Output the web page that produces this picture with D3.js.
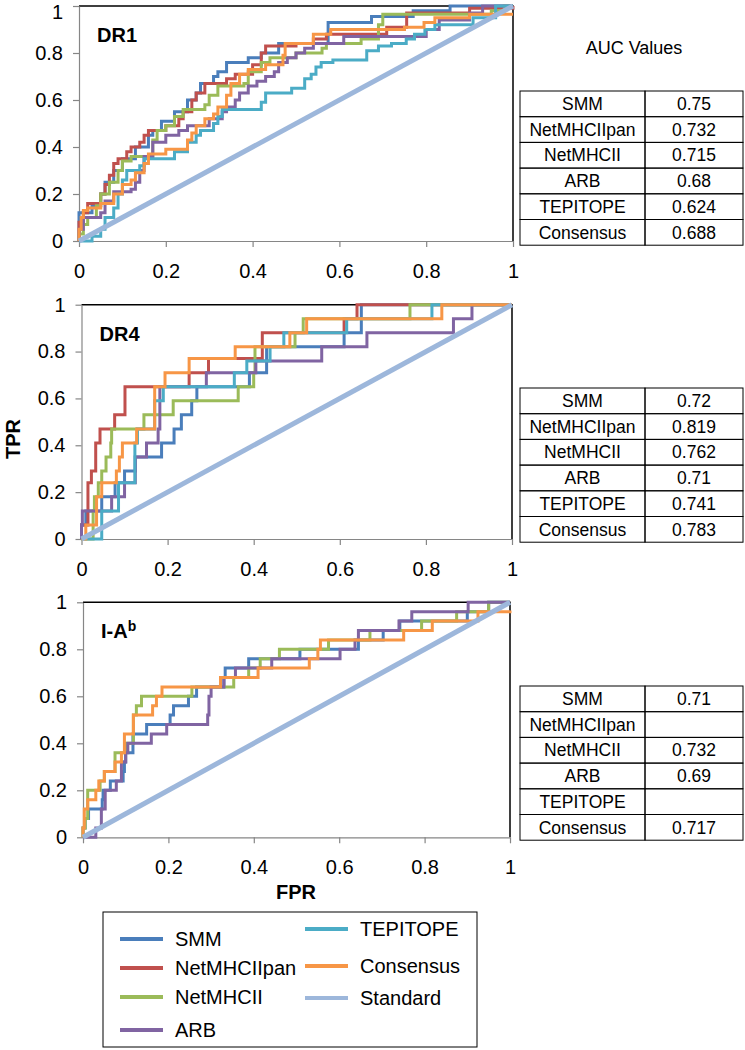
<!DOCTYPE html>
<html><head><meta charset="utf-8">
<script src="https://cdn.jsdelivr.net/npm/d3@7"></script>
<style>body{margin:0;background:#fff} text{font-family:"Liberation Sans",Arial,sans-serif}</style>
</head><body><svg id="c" width="745" height="1050"></svg>
<script>
// ---------- data ----------
const methods = ["SMM","NetMHCIIpan","NetMHCII","ARB","TEPITOPE","Consensus"];
const legendNames = ["SMM","NetMHCIIpan","NetMHCII","ARB","TEPITOPE","Consensus","Standard"];
const panelNames = ["DR1","DR4","I-A"];
const tickValues = [0,0.2,0.4,0.6,0.8,1];
const tickLabels = ["0","0.2","0.4","0.6","0.8","1"];
const auc_DR1 = ["0.75","0.732","0.715","0.68","0.624","0.688"];
const auc_DR4 = ["0.72","0.819","0.762","0.71","0.741","0.783"];
const auc_IAb = ["0.71","","0.732","0.69","","0.717"];
const standardLine = [[0,0],[1,1]];

// DR1 ROC curves [FPR, TPR]
const dr1_SMM = [[0,0],[0,0.12],[0.03,0.15],[0.05,0.2],[0.06,0.25],[0.08,0.3],[0.1,0.35],[0.13,0.4],[0.16,0.45],[0.17,0.47],[0.19,0.51],[0.22,0.55],[0.25,0.6],[0.27,0.63],[0.28,0.67],[0.31,0.7],[0.32,0.72],[0.34,0.76],[0.39,0.78],[0.42,0.8],[0.46,0.84],[0.574,0.93],[0.674,0.955],[0.77,0.98],[0.855,1],[1,1]];
const dr1_NetMHCIIpan = [[0,0],[0,0.08],[0.01,0.12],[0.02,0.16],[0.05,0.2],[0.06,0.24],[0.07,0.28],[0.08,0.33],[0.09,0.35],[0.11,0.38],[0.12,0.4],[0.14,0.42],[0.15,0.45],[0.16,0.47],[0.2,0.49],[0.23,0.52],[0.24,0.55],[0.26,0.6],[0.27,0.63],[0.29,0.67],[0.34,0.69],[0.36,0.71],[0.4,0.75],[0.42,0.8],[0.43,0.83],[0.5,0.84],[0.54,0.86],[0.57,0.88],[0.709,0.91],[0.755,0.97],[0.9,0.99],[1,1]];
const dr1_NetMHCII = [[0,0],[0,0.03],[0.01,0.07],[0.02,0.1],[0.04,0.15],[0.05,0.2],[0.07,0.25],[0.09,0.3],[0.1,0.34],[0.12,0.36],[0.17,0.43],[0.18,0.47],[0.2,0.49],[0.22,0.53],[0.24,0.56],[0.29,0.58],[0.3,0.62],[0.32,0.66],[0.38,0.67],[0.39,0.72],[0.42,0.76],[0.44,0.78],[0.5,0.8],[0.56,0.82],[0.57,0.84],[0.65,0.86],[0.69,0.92],[0.7,0.965],[0.95,0.98],[0.98,1],[1,1]];
const dr1_ARB = [[0,0],[0,0.05],[0.01,0.1],[0.05,0.12],[0.06,0.17],[0.08,0.21],[0.12,0.22],[0.13,0.25],[0.14,0.3],[0.15,0.36],[0.17,0.42],[0.2,0.45],[0.23,0.47],[0.25,0.49],[0.3,0.52],[0.33,0.55],[0.34,0.57],[0.36,0.6],[0.37,0.63],[0.39,0.66],[0.41,0.68],[0.43,0.7],[0.45,0.72],[0.46,0.76],[0.48,0.78],[0.5,0.8],[0.52,0.82],[0.54,0.84],[0.61,0.87],[0.8,0.9],[0.83,0.94],[0.9,0.97],[0.93,1],[1,1]];
const dr1_TEPITOPE = [[0,0],[0.03,0.02],[0.05,0.05],[0.06,0.1],[0.08,0.14],[0.09,0.2],[0.1,0.26],[0.11,0.3],[0.14,0.32],[0.15,0.35],[0.22,0.38],[0.25,0.42],[0.27,0.45],[0.28,0.47],[0.31,0.5],[0.32,0.53],[0.33,0.56],[0.42,0.59],[0.43,0.63],[0.49,0.65],[0.52,0.69],[0.535,0.71],[0.546,0.74],[0.558,0.76],[0.585,0.77],[0.663,0.81],[0.69,0.83],[0.72,0.84],[0.754,0.86],[0.773,0.88],[0.797,0.9],[0.82,0.92],[0.908,0.95],[0.96,1],[1,1]];
const dr1_Consensus = [[0,0],[0,0.05],[0.005,0.1],[0.01,0.13],[0.02,0.14],[0.05,0.16],[0.08,0.2],[0.1,0.24],[0.12,0.26],[0.13,0.29],[0.15,0.33],[0.16,0.37],[0.2,0.39],[0.25,0.43],[0.26,0.46],[0.27,0.49],[0.29,0.52],[0.31,0.54],[0.32,0.57],[0.34,0.62],[0.35,0.67],[0.37,0.71],[0.39,0.73],[0.43,0.75],[0.47,0.79],[0.475,0.84],[0.54,0.88],[0.58,0.9],[0.75,0.91],[0.795,0.93],[0.82,0.95],[0.9,0.965],[1,0.965]];

// DR4 ROC curves
const dr4_SMM = [[0,0],[0,0.06],[0.01,0.12],[0.047,0.18],[0.078,0.24],[0.1,0.29],[0.125,0.35],[0.186,0.41],[0.215,0.47],[0.232,0.53],[0.256,0.59],[0.268,0.65],[0.39,0.71],[0.43,0.82],[0.61,0.88],[0.65,1],[1,1]];
const dr4_NetMHCIIpan = [[0,0],[0,0.06],[0.015,0.24],[0.023,0.29],[0.033,0.41],[0.043,0.47],[0.077,0.53],[0.101,0.65],[0.25,0.71],[0.295,0.77],[0.42,0.88],[0.61,0.94],[0.64,1],[1,1]];
const dr4_NetMHCII = [[0,0],[0.027,0.12],[0.03,0.18],[0.039,0.24],[0.047,0.29],[0.057,0.35],[0.068,0.41],[0.07,0.47],[0.145,0.53],[0.213,0.59],[0.364,0.65],[0.4,0.71],[0.403,0.82],[0.496,0.88],[0.515,0.94],[0.763,1],[1,1]];
const dr4_ARB = [[0,0],[0,0.06],[0.002,0.12],[0.07,0.18],[0.1,0.24],[0.125,0.35],[0.151,0.41],[0.178,0.47],[0.182,0.65],[0.29,0.71],[0.405,0.76],[0.558,0.82],[0.663,0.88],[0.864,0.94],[0.907,1],[1,1]];
const dr4_TEPITOPE = [[0,0],[0.047,0.12],[0.086,0.24],[0.124,0.41],[0.13,0.47],[0.17,0.59],[0.19,0.65],[0.355,0.71],[0.384,0.76],[0.438,0.82],[0.47,0.88],[0.616,0.94],[0.814,1],[1,1]];
const dr4_Consensus = [[0,0],[0.01,0.06],[0.035,0.18],[0.047,0.24],[0.081,0.29],[0.088,0.35],[0.095,0.41],[0.128,0.47],[0.17,0.65],[0.194,0.71],[0.25,0.77],[0.357,0.82],[0.484,0.88],[0.523,0.94],[0.837,1],[1,1]];

// I-Ab ROC curves (no NetMHCIIpan / TEPITOPE)
const iab_SMM = [[0,0],[0,0.04],[0.005,0.08],[0.013,0.12],[0.045,0.16],[0.047,0.2],[0.064,0.24],[0.094,0.28],[0.097,0.32],[0.1,0.36],[0.117,0.44],[0.149,0.48],[0.204,0.52],[0.212,0.56],[0.247,0.6],[0.266,0.64],[0.33,0.68],[0.333,0.72],[0.388,0.76],[0.508,0.8],[0.645,0.84],[0.703,0.88],[0.742,0.92],[0.9,0.96],[0.95,1],[1,1]];
const iab_NetMHCII = [[0,0],[0,0.04],[0.005,0.08],[0.011,0.2],[0.04,0.24],[0.05,0.28],[0.075,0.36],[0.1,0.4],[0.118,0.52],[0.125,0.56],[0.137,0.6],[0.255,0.64],[0.353,0.68],[0.388,0.72],[0.415,0.76],[0.46,0.8],[0.575,0.84],[0.672,0.88],[0.793,0.92],[0.875,0.96],[0.95,1],[1,1]];
const iab_ARB = [[0,0],[0.03,0.04],[0.043,0.12],[0.052,0.2],[0.078,0.24],[0.09,0.32],[0.1,0.36],[0.105,0.4],[0.16,0.44],[0.196,0.48],[0.292,0.52],[0.295,0.6],[0.3,0.64],[0.33,0.68],[0.357,0.72],[0.442,0.76],[0.602,0.8],[0.637,0.84],[0.645,0.88],[0.74,0.92],[0.77,0.96],[0.902,1],[1,1]];
const iab_Consensus = [[0,0],[0,0.04],[0.003,0.12],[0.011,0.16],[0.03,0.2],[0.037,0.24],[0.05,0.28],[0.075,0.32],[0.09,0.36],[0.097,0.44],[0.118,0.52],[0.163,0.56],[0.172,0.6],[0.185,0.64],[0.322,0.68],[0.41,0.72],[0.53,0.76],[0.55,0.8],[0.556,0.84],[0.751,0.88],[0.818,0.92],[0.925,0.96],[1,0.965]];

const curvesByPanel = [
  [dr1_SMM, dr1_NetMHCIIpan, dr1_NetMHCII, dr1_ARB, dr1_TEPITOPE, dr1_Consensus],
  [dr4_SMM, dr4_NetMHCIIpan, dr4_NetMHCII, dr4_ARB, dr4_TEPITOPE, dr4_Consensus],
  [iab_SMM, null, iab_NetMHCII, iab_ARB, null, iab_Consensus]
];
const aucByPanel = [auc_DR1, auc_DR4, auc_IAb];

// ---------- style / layout ----------
const colors = {SMM:"#4A7EBB", NetMHCIIpan:"#C0504D", NetMHCII:"#9BBB59", ARB:"#8064A2", TEPITOPE:"#4BACC6", Consensus:"#F79646", Standard:"#9DB7DB"};
const layout = [
  {x0:79, x1:513, y0:241, y1:6, tTop:91},
  {x0:81.5, x1:512, y0:539, y1:304.7, tTop:388},
  {x0:83, x1:510, y0:837.3, y1:602.3, tTop:686}
];
const svg = d3.select("#c");
const axisGray = "#868686";

panelNames.forEach((name, p) => {
  const L = layout[p];
  const x = d3.scaleLinear().domain([0,1]).range([L.x0, L.x1]);
  const y = d3.scaleLinear().domain([0,1]).range([L.y0, L.y1]);
  const g = svg.append("g");

  g.append("path").attr("d", `M${L.x0},${L.y1}H${L.x1}V${L.y0}`)
    .attr("fill","none").attr("stroke","#000").attr("stroke-width",1.5);

  const ya = g.append("g").attr("transform",`translate(${L.x0},0)`)
    .call(d3.axisLeft(y).tickValues(tickValues).tickFormat((d,i)=>tickLabels[i]).tickSize(6).tickSizeOuter(0).tickPadding(10));
  const xa = g.append("g").attr("transform",`translate(0,${L.y0})`)
    .call(d3.axisBottom(x).tickValues(tickValues).tickFormat((d,i)=>tickLabels[i]).tickSize(6).tickSizeOuter(0).tickPadding(17));
  [ya, xa].forEach(a => {
    a.select(".domain").attr("stroke", axisGray).attr("stroke-width",1.2);
    a.selectAll(".tick line").attr("stroke", axisGray).attr("stroke-width",1.2);
    a.selectAll(".tick text").attr("fill","#000").style("font-size","20px").style("font-family",'"Liberation Sans",Arial,sans-serif');
  });
  if (p === 0) ya.selectAll(".tick text").filter(d => d === 1).attr("dy","0.62em");

  const line = d3.line().x(d=>x(d[0])).y(d=>y(d[1])).curve(d3.curveStepAfter);
  curvesByPanel[p].forEach((data, i) => {
    if (!data) return;
    g.append("path").datum(data).attr("d", line)
      .attr("fill","none").attr("stroke", colors[methods[i]]).attr("stroke-width",3);
  });
  g.append("path").datum(standardLine)
    .attr("d", d3.line().x(d=>x(d[0])).y(d=>y(d[1])))
    .attr("fill","none").attr("stroke", colors.Standard).attr("stroke-width",5);

  const t = g.append("text").attr("x", L.x0 + 18).attr("y", L.y1 + 36)
    .style("font-size","20px").style("font-weight","bold");
  t.append("tspan").text(name);
  if (p === 2) t.append("tspan").text("b").attr("dy",-7).style("font-size","14px");

  // AUC table
  const tx0 = 520, tx1 = 645, tx2 = 743, rh = 25.7;
  const tg = svg.append("g");
  methods.forEach((m, r) => {
    const ty = L.tTop + r*rh;
    tg.append("rect").attr("x",tx0).attr("y",ty).attr("width",tx1-tx0).attr("height",rh)
      .attr("fill","none").attr("stroke","#000").attr("stroke-width",1);
    tg.append("rect").attr("x",tx1).attr("y",ty).attr("width",tx2-tx1).attr("height",rh)
      .attr("fill","none").attr("stroke","#000").attr("stroke-width",1);
    tg.append("text").attr("x",(tx0+tx1)/2).attr("y",ty+19).attr("text-anchor","middle")
      .style("font-size","17.5px").text(m);
    tg.append("text").attr("x",(tx1+tx2)/2).attr("y",ty+19).attr("text-anchor","middle")
      .style("font-size","17.5px").text(aucByPanel[p][r]);
  });
});

svg.append("text").attr("x",634).attr("y",54).attr("text-anchor","middle").style("font-size","18px").text("AUC Values");

svg.append("text").attr("transform","translate(20,439) rotate(-90)").attr("text-anchor","middle")
  .style("font-size","20px").style("font-weight","bold").text("TPR");
svg.append("text").attr("x",296).attr("y",899).attr("text-anchor","middle")
  .style("font-size","20px").style("font-weight","bold").text("FPR");

// legend
svg.append("rect").attr("x",103).attr("y",912).attr("width",374).attr("height",135)
  .attr("fill","none").attr("stroke","#000").attr("stroke-width",1);
const legPos = [
  {lx:120, tx:175, y:939},{lx:120, tx:175, y:968},{lx:120, tx:175, y:997},{lx:120, tx:175, y:1030},
  {lx:305, tx:360, y:929},{lx:305, tx:360, y:966},{lx:305, tx:360, y:998}
];
legendNames.forEach((n, i) => {
  const P = legPos[i];
  svg.append("line").attr("x1",P.lx).attr("x2",P.lx+43).attr("y1",P.y).attr("y2",P.y)
    .attr("stroke",colors[n]).attr("stroke-width",4);
  svg.append("text").attr("x",P.tx).attr("y",P.y+7).style("font-size","20px").text(n);
});
</script></body></html>
